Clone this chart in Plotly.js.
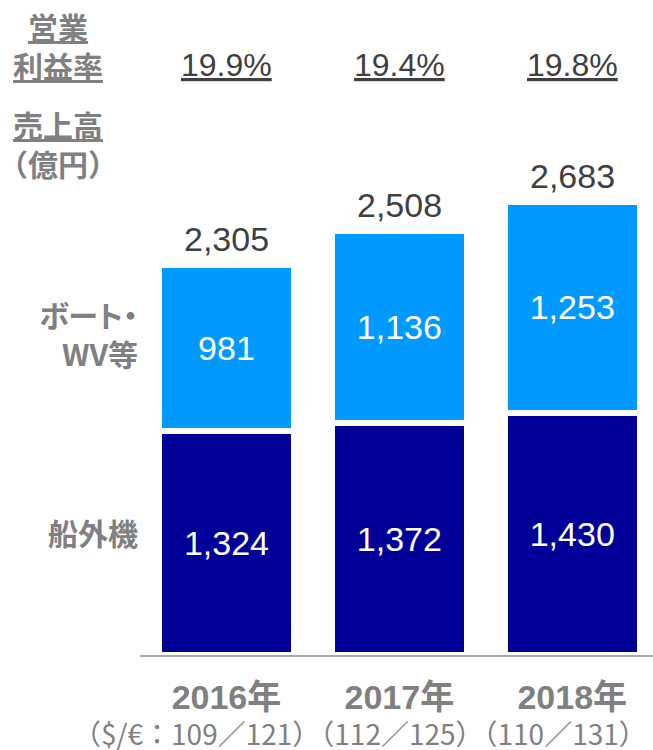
<!DOCTYPE html>
<html>
<head>
<meta charset="utf-8">
<script src="https://cdn.plot.ly/plotly-3.0.1.min.js"></script>
<style>
  html, body { margin: 0; padding: 0; background: #fff; }
  #chart { width: 653px; height: 750px; }
</style>
</head>
<body>
<div id="chart"></div>
<script>
// data
const years = ['2016年', '2017年', '2018年'];
const fxRates = ['109／121', '112／125', '110／131'];
const outboard = [1324, 1372, 1430];   // 船外機
const boatWv = [981, 1136, 1253];      // ボート・WV等
const totals = [2305, 2508, 2683];
const opMargin = ['19.9%', '19.4%', '19.8%'];

const NUM_FONT = 'Liberation Sans, Arial, sans-serif';
const JP_FONT = 'Noto Sans CJK JP, sans-serif';
const GRAY = '#808080';
const DARK = '#404040';

const barCommon = {
  type: 'bar',
  x: years,
  width: 0.781,
  textposition: 'inside',
  insidetextanchor: 'middle',
  texttemplate: '%{y:,}',
  textangle: 0,
  textfont: { family: NUM_FONT, size: 34, color: '#ffffff' },
  hoverinfo: 'skip'
};

const outboardTrace = Object.assign({}, barCommon, {
  name: '船外機',
  y: outboard,
  marker: { color: '#000099', line: { color: '#ffffff', width: 6 } }
});

const boatTrace = Object.assign({}, barCommon, {
  name: 'ボート・WV等',
  y: boatWv,
  marker: { color: '#0099ff', line: { color: '#ffffff', width: 6 } }
});

const annotations = [];

// totals above the bars + operating margin row
years.forEach((yr, i) => {
  annotations.push({
    x: yr, y: totals[i], xref: 'x', yref: 'y',
    text: totals[i].toLocaleString('en-US'),
    showarrow: false, yanchor: 'middle', yshift: 26,
    font: { family: NUM_FONT, size: 34, color: DARK }
  });
  annotations.push({
    x: yr, y: 1.063, xref: 'x', yref: 'paper',
    text: '<u>' + opMargin[i] + '</u>',
    showarrow: false, yanchor: 'middle',
    font: { family: NUM_FONT, size: 32, color: DARK }
  });
});

// left side labels
const sideLabel = (text, x, y, xanchor, align) => ({
  text: text, x: x, y: y, xref: 'paper', yref: 'paper',
  xanchor: xanchor, yanchor: 'middle', align: align, showarrow: false,
  font: { family: JP_FONT, size: 30, color: GRAY, weight: 'bold' }
});
annotations.push(sideLabel('<u>営業</u><br><u>利益率</u>', -0.16, 1.099, 'center', 'center'));
annotations.push(sideLabel('<u>売上高</u><br>（億円）', -0.16, 0.921, 'center', 'center'));
const boatLabelIdx = annotations.length;
annotations.push(sideLabel('ボート・<br>WV等', 0, 0.58, 'right', 'right'));
annotations.push(sideLabel('船外機', 0, 0.2216, 'right', 'right'));

// exchange rate line under the year labels
const rateText = fxRates.map((r, i) => '（' + (i === 0 ? '$/€：' : '') + r + '）').join('');
annotations.push({
  text: rateText, x: 0.429, y: -0.14, xref: 'paper', yref: 'paper',
  xanchor: 'center', yanchor: 'middle', showarrow: false,
  font: { family: JP_FONT, size: 28, color: GRAY }
});

// proportional kana for the boat label, like the original slide
const st = document.createElement('style');
st.textContent = '.annotation[data-index="' + boatLabelIdx + '"] text { font-feature-settings: "palt"; }';
document.head.appendChild(st);

const layout = {
  width: 653,
  height: 750,
  margin: { l: 140, r: 0, t: 100, b: 95, autoexpand: false },
  barmode: 'stack',
  showlegend: false,
  paper_bgcolor: '#ffffff',
  plot_bgcolor: '#ffffff',
  xaxis: {
    type: 'category',
    range: [-0.5, 2.467],
    showline: true,
    linecolor: '#a6a6a6',
    linewidth: 2,
    ticks: '',
    showgrid: false,
    ticklabelstandoff: 11,
    tickfont: { family: NUM_FONT + ', ' + JP_FONT, size: 34, color: GRAY, weight: 'bold' },
    fixedrange: true
  },
  yaxis: { range: [0, 3284], visible: false, fixedrange: true },
  annotations: annotations
};

Plotly.newPlot('chart', [outboardTrace, boatTrace], layout, { displayModeBar: false, staticPlot: true });
</script>
</body>
</html>
